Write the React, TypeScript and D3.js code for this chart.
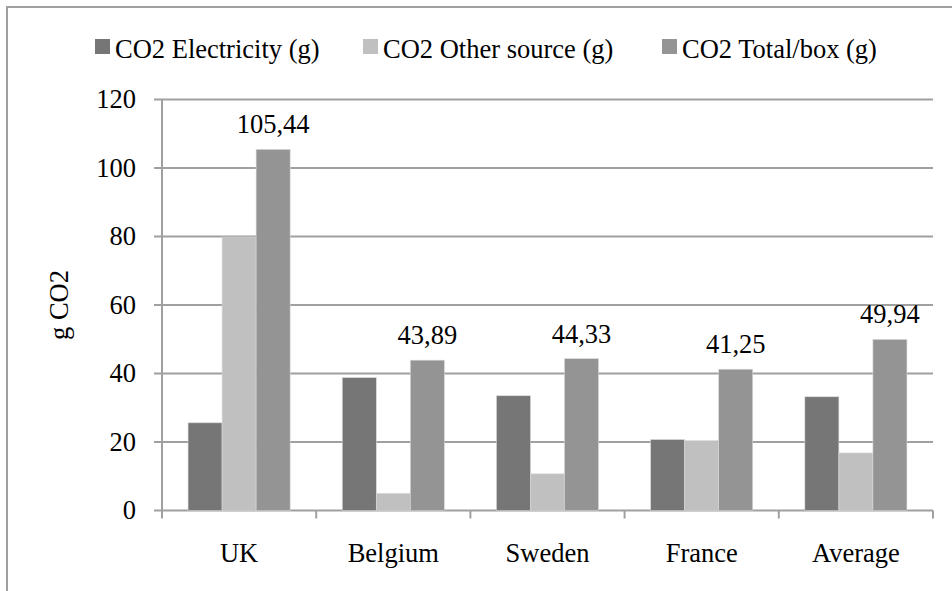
import React from "react";
import * as d3 from "d3";

const categories = ["UK", "Belgium", "Sweden", "France", "Average"];
const seriesNames = ["CO2 Electricity (g)", "CO2 Other source (g)", "CO2 Total/box (g)"];
const electricity = [25.6, 38.8, 33.5, 20.7, 33.2];
const otherSource = [79.84, 5.0, 10.7, 20.4, 16.8];
const totalBox = [105.44, 43.89, 44.33, 41.25, 49.94];
const totalLabels = ["105,44", "43,89", "44,33", "41,25", "49,94"];
const yTicks = [0, 20, 40, 60, 80, 100, 120];
const colors = ["#767676", "#c0c0c0", "#949494"];

const W = 952;
const H = 591;
const FONT = "'Liberation Serif', serif";
const FS = 26.5;

export default function App() {
  const left = 162, right = 933, top = 99.5, bottom = 510.5;
  const x0 = d3.scaleBand<string>().domain(categories).range([left, right]).paddingInner(0.338).paddingOuter(0.169);
  const x1 = d3.scaleBand<number>().domain([0, 1, 2]).range([0, x0.bandwidth()]);
  const y = d3.scaleLinear().domain([0, 120]).range([bottom, top]);
  const series = [electricity, otherSource, totalBox];
  const outer = d3.scaleBand<string>().domain(categories).range([left, right]);
  const legendX = [95, 363, 662];
  const grid = "#a0a0a0";

  return (
    <svg width={W} height={H} style={{ position: "absolute", left: 0, top: 0, background: "#fff" }} fontFamily={FONT}>
      <rect x={7} y={7} width={1000} height={700} fill="#fff" stroke={grid} strokeWidth={2} />
      {seriesNames.map((s, i) => (
        <g key={s}>
          <rect x={legendX[i]} y={39} width={15} height={15} fill={colors[i]} />
          <text x={legendX[i] + 20} y={58} fontSize={FS} fill="#000">{s}</text>
        </g>
      ))}
      {yTicks.map((t) => (
        <g key={t}>
          <line x1={154} x2={right} y1={y(t)} y2={y(t)} stroke={grid} strokeWidth={2} />
          <text x={136} y={y(t)} dy="0.33em" textAnchor="end" fontSize={FS} fill="#000">{t}</text>
        </g>
      ))}
      <line x1={left} x2={left} y1={top} y2={bottom} stroke={grid} strokeWidth={2} />
      {categories.map((c) => (
        <line key={"t" + c} x1={outer(c)!} x2={outer(c)!} y1={bottom} y2={bottom + 8} stroke={grid} strokeWidth={2} />
      ))}
      <line x1={right} x2={right} y1={bottom} y2={bottom + 8} stroke={grid} strokeWidth={2} />
      {categories.map((c, ci) => (
        <g key={c}>
          {series.map((vals, si) => (
            <rect key={si} x={x0(c)! + x1(si)!} y={y(vals[ci])} width={x1.bandwidth()} height={bottom - y(vals[ci])} fill={colors[si]} stroke="#d8d8d8" strokeWidth={0.6} />
          ))}
          <text x={x0(c)! + x1(2)! + x1.bandwidth() / 2} y={y(totalBox[ci]) - 16} textAnchor="middle" fontSize={FS} fill="#000">{totalLabels[ci]}</text>
          <text x={outer(c)! + outer.bandwidth() / 2} y={562} textAnchor="middle" fontSize={FS} fill="#000">{c}</text>
        </g>
      ))}
      <text transform={`translate(68,305) rotate(-90)`} textAnchor="middle" fontSize={FS} fill="#000">g CO2</text>
    </svg>
  );
}
